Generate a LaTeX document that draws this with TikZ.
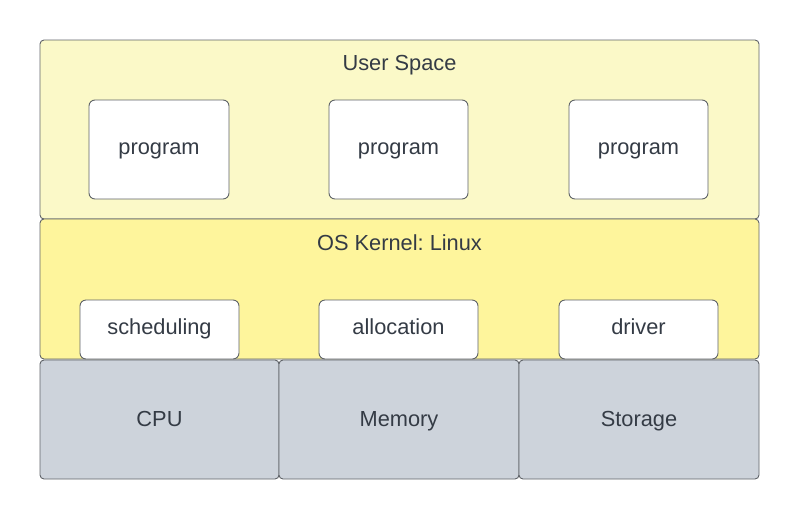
\documentclass[tikz,border=0pt]{standalone}
\usepackage{fontspec}
\setmainfont{Liberation Sans}
\frenchspacing
\definecolor{userfill}{HTML}{FBF9C8}
\definecolor{kernfill}{HTML}{FEF59C}
\definecolor{hwfill}{HTML}{CDD3DB}
\definecolor{edge}{HTML}{5F6368}
\definecolor{txt}{HTML}{343B45}
\begin{document}
\begin{tikzpicture}[x=1pt,y=-1pt,
  layer/.style={draw=edge,line width=0.9pt,rounded corners=4pt},
  inner/.style={draw=edge,line width=0.9pt,rounded corners=6pt,fill=white},
  lbl/.style={text=txt,font=\fontsize{21.8}{26}\selectfont,inner sep=0pt,
    text height=15.6pt,text depth=0pt}]
\useasboundingbox (0,0) rectangle (800,520);
% layers
\draw[layer,fill=userfill] (40,40) rectangle (759,219);
\draw[layer,fill=kernfill] (40,219) rectangle (759,359);
\draw[layer,fill=hwfill] (40,360) rectangle (279,479);
\draw[layer,fill=hwfill] (279,360) rectangle (519,479);
\draw[layer,fill=hwfill] (519,360) rectangle (759,479);
\node[lbl] (us) at (399.5,63) {User Space};
\node[lbl] (ok) at (399.5,243) {OS Kernel: Linux};
% programs
\draw[inner] (89,100) rectangle (229,199);
\draw[inner] (329,100) rectangle (468,199);
\draw[inner] (569,100) rectangle (708,199);
\node[lbl] (p1) at (159,147) {program};
\node[lbl] (p2) at (398.5,147) {program};
\node[lbl] (p3) at (638.5,147) {program};
% kernel parts
\draw[inner] (80,300) rectangle (239,359);
\draw[inner] (319,300) rectangle (478,359);
\draw[inner] (559,300) rectangle (718,359);
\node[lbl] (k1) at (159.5,327) {scheduling};
\node[lbl] (k2) at (398.5,327) {allocation};
\node[lbl] (k3) at (638.5,327) {driver};
% hardware
\node[lbl] (h1) at (159.5,418.5) {CPU};
\node[lbl] (h2) at (399,418.5) {Memory};
\node[lbl] (h3) at (639,418.5) {Storage};
\end{tikzpicture}
\end{document}
